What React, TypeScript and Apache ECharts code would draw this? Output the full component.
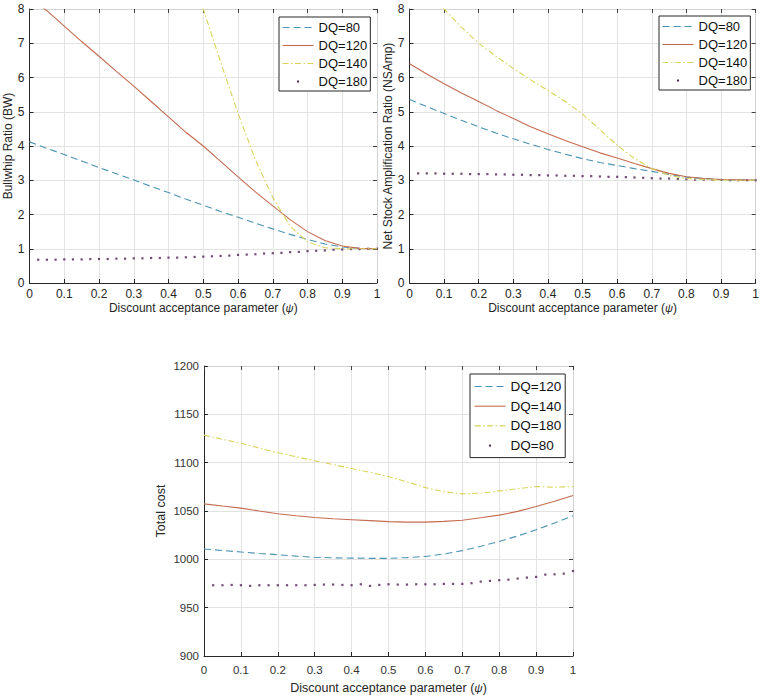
import React, { useEffect, useRef } from "react";
import * as echarts from "echarts";

// ---------- data ----------
const xLine = [0, 0.05, 0.1, 0.15, 0.2, 0.25, 0.3, 0.35, 0.4, 0.45, 0.5, 0.55, 0.6, 0.65, 0.7, 0.75, 0.8, 0.85, 0.9, 0.95, 1];
const xDots = [0.025, 0.05, 0.075, 0.1, 0.125, 0.15, 0.175, 0.2, 0.225, 0.25, 0.275, 0.3, 0.325, 0.35, 0.375, 0.4, 0.425, 0.45, 0.475, 0.5,
  0.525, 0.55, 0.575, 0.6, 0.625, 0.65, 0.675, 0.7, 0.725, 0.75, 0.775, 0.8, 0.825, 0.85, 0.875, 0.9, 0.925, 0.95, 0.975, 1];

// Bullwhip ratio (top-left)
const bwDQ80 = [4.12, 3.93, 3.75, 3.56, 3.37, 3.19, 3.01, 2.82, 2.64, 2.45, 2.27, 2.09, 1.92, 1.75, 1.58, 1.42, 1.27, 1.14, 1.05, 1.01, 1.0];
const bwDQ120 = [8.35, 7.95, 7.5, 7.05, 6.62, 6.18, 5.75, 5.3, 4.85, 4.4, 4.0, 3.55, 3.1, 2.66, 2.25, 1.85, 1.5, 1.24, 1.08, 1.01, 1.0];
const bwDQ140X = [0.45, 0.5, 0.55, 0.6, 0.65, 0.7, 0.75, 0.8, 0.85, 0.9, 0.95, 1];
const bwDQ140 = [9.8, 8.0, 6.45, 4.96, 3.6, 2.5, 1.66, 1.2, 1.03, 1.0, 1.0, 1.0];
const bwDQ180 = [0.68, 0.68, 0.68, 0.69, 0.69, 0.69, 0.7, 0.7, 0.7, 0.71, 0.71, 0.72, 0.72, 0.73, 0.73, 0.74, 0.74, 0.75, 0.76, 0.77,
  0.78, 0.79, 0.8, 0.82, 0.83, 0.84, 0.86, 0.87, 0.88, 0.9, 0.91, 0.93, 0.94, 0.95, 0.97, 0.98, 0.99, 0.99, 1.0, 1.0];

// Net stock amplification ratio (top-right)
const nsDQ80 = [5.36, 5.15, 4.95, 4.75, 4.56, 4.38, 4.21, 4.05, 3.9, 3.76, 3.63, 3.52, 3.43, 3.34, 3.26, 3.17, 3.09, 3.05, 3.02, 3.01, 3.0];
const nsDQ120 = [6.4, 6.1, 5.82, 5.55, 5.3, 5.04, 4.8, 4.56, 4.36, 4.16, 3.98, 3.8, 3.65, 3.49, 3.34, 3.2, 3.1, 3.05, 3.02, 3.01, 3.0];
const nsDQ140 = [9.1, 8.55, 8.0, 7.47, 7.0, 6.62, 6.26, 5.93, 5.62, 5.3, 4.93, 4.48, 4.02, 3.63, 3.34, 3.14, 3.05, 3.02, 3.0, 3.0, 3.0];
const nsDQ180 = [3.2, 3.2, 3.2, 3.19, 3.19, 3.19, 3.18, 3.18, 3.18, 3.17, 3.17, 3.16, 3.16, 3.15, 3.15, 3.14, 3.14, 3.13, 3.13, 3.12,
  3.12, 3.11, 3.1, 3.1, 3.09, 3.08, 3.07, 3.06, 3.05, 3.05, 3.04, 3.03, 3.02, 3.02, 3.01, 3.01, 3.0, 3.0, 3.0, 3.0];

// Total cost (bottom)
const tcDQ120 = [1010.7, 1009.1, 1007.6, 1006.1, 1004.8, 1003.3, 1002.1, 1001.6, 1001.3, 1001.0, 1001.0, 1001.8, 1003.0, 1005.5, 1009.0, 1013.5, 1018.5, 1024.2, 1030.6, 1037.5, 1045.0];
const tcDQ140 = [1057.4, 1055.1, 1053.0, 1050.0, 1047.2, 1045.1, 1043.3, 1042.0, 1041.0, 1040.0, 1039.0, 1038.5, 1038.5, 1039.3, 1040.5, 1043.0, 1045.7, 1049.6, 1054.6, 1060.0, 1066.0];
const tcDQ180 = [1128.5, 1124.2, 1120.0, 1115.1, 1110.3, 1106.1, 1102.0, 1098.0, 1094.0, 1090.0, 1085.6, 1080.2, 1074.2, 1070.0, 1067.7, 1068.4, 1070.8, 1073.0, 1075.3, 1074.6, 1075.3];
const tcDQ80 = [973.2, 973.2, 973.5, 973.2, 972.5, 973.2, 973.2, 973.2, 973.2, 973.2, 973.2, 973.5, 973.9, 973.9, 973.5, 973.2, 974.2, 972.5, 973.5, 974.2,
  973.9, 973.9, 974.2, 974.2, 974.2, 974.6, 974.6, 974.6, 975.3, 977.0, 977.7, 978.4, 979.0, 980.1, 981.1, 981.8, 984.2, 984.5, 985.2, 987.9];

const bwLegend = ["DQ=80", "DQ=120", "DQ=140", "DQ=180"];
const tcLegend = ["DQ=120", "DQ=140", "DQ=180", "DQ=80"];

// ---------- styles ----------
const FONT = '"Liberation Sans", Arial, Helvetica, sans-serif';
const BLUE = "#4a93b3";
const RED = "#c46c50";
const YELLOW = "#d8d45a";
const PURPLE = "#4e2250";
const DASH = [7, 4];
const DASHDOT = [6, 2.5, 1.5, 2.5];
const DOT_ICON = "path://M0,0M31,12M14.5,5h2v2h-2z";

const pairs = (xs: number[], ys: number[]) => xs.map((x, i) => [x, ys[i]]);
const plain = (v: number) => String(v);

function lineSeries(name: string, data: number[][], color: string, type: any) {
  return {
    type: "line",
    name,
    data,
    symbol: "none",
    showSymbol: false,
    clip: true,
    silent: true,
    lineStyle: { color, width: 1.1, type },
    itemStyle: { color },
  };
}
function dotSeries(name: string, data: number[][]) {
  return {
    type: "scatter",
    name,
    data,
    symbol: "rect",
    symbolSize: 2.2,
    silent: true,
    itemStyle: { color: PURPLE },
  };
}

function buildOption(p: any) {
  const tickColor = p.textColor;
  const mainX = {
    type: "value",
    min: 0,
    max: 1,
    interval: 0.1,
    position: "bottom",
    gridIndex: 0,
    axisLine: { show: true, onZero: false, lineStyle: { color: "#262626", width: 1 } },
    axisTick: { show: true, inside: true, length: 4, lineStyle: { color: "#262626" } },
    axisLabel: { margin: p.xLabelMargin, fontSize: p.tickSize, color: tickColor, fontFamily: FONT, formatter: plain },
    splitLine: { show: true, lineStyle: { color: "#e3e3e3", width: 1 } },
    name: "Discount acceptance parameter ({i|ψ})",
    nameLocation: "middle",
    nameGap: p.xNameGap,
    nameTextStyle: {
      fontSize: p.nameSize,
      color: "#262626",
      fontFamily: FONT,
      rich: { i: { fontStyle: "italic", fontSize: p.nameSize - 1, color: "#262626", fontFamily: FONT } },
    },
  };
  const topX = {
    type: "value",
    min: 0,
    max: 1,
    interval: 0.1,
    position: "top",
    gridIndex: 0,
    axisLine: { show: true, onZero: false, lineStyle: { color: "#d2d2d2", width: 1 } },
    axisTick: { show: true, inside: true, length: 4, lineStyle: { color: "#404040" } },
    axisLabel: { show: false },
    splitLine: { show: false },
  };
  const mainY = {
    type: "value",
    min: p.yMin,
    max: p.yMax,
    interval: p.yInterval,
    position: "left",
    gridIndex: 0,
    axisLine: { show: true, onZero: false, lineStyle: { color: "#262626", width: 1 } },
    axisTick: { show: true, inside: true, length: 4, lineStyle: { color: "#262626" } },
    axisLabel: { margin: 5, fontSize: p.tickSize, color: tickColor, fontFamily: FONT, formatter: plain },
    splitLine: { show: true, lineStyle: { color: "#e3e3e3", width: 1 } },
    name: p.yName,
    nameLocation: "middle",
    nameGap: p.yNameGap,
    nameRotate: 90,
    nameTextStyle: { fontSize: p.nameSize, color: "#262626", fontFamily: FONT },
  };
  const rightY = {
    type: "value",
    min: p.yMin,
    max: p.yMax,
    interval: p.yInterval,
    position: "right",
    gridIndex: 0,
    axisLine: { show: true, onZero: false, lineStyle: { color: "#d2d2d2", width: 1 } },
    axisTick: { show: true, inside: true, length: 4, lineStyle: { color: "#404040" } },
    axisLabel: { show: false },
    splitLine: { show: false },
  };
  return {
    animation: false,
    grid: { left: p.grid[0], top: p.grid[1], width: p.grid[2], height: p.grid[3], containLabel: false },
    xAxis: [mainX, topX],
    yAxis: [mainY, rightY],
    legend: {
      orient: "vertical",
      left: p.legend[0],
      top: p.legend[1],
      itemWidth: 31,
      itemHeight: 12,
      itemGap: p.legendGap,
      padding: p.legendPad,
      borderColor: "#262626",
      borderWidth: 1,
      borderRadius: 0,
      backgroundColor: "#ffffff",
      selectedMode: false,
      textStyle: { fontSize: p.legendFont, color: "#111111", fontFamily: FONT },
      itemStyle: { opacity: 0 },
      lineStyle: { width: 1.1 },
      data: p.legendData.map((n: string) =>
        n === p.dotName ? { name: n, icon: DOT_ICON, itemStyle: { opacity: 1, color: PURPLE } } : { name: n }
      ),
    },
    series: p.series,
  };
}

const opt1 = buildOption({
  grid: [29.5, 9, 347.5, 274],
  yMin: 0, yMax: 8, yInterval: 1,
  yName: "Bullwhip Ratio (BW)",
  yNameGap: 14,
  xNameGap: 19,
  xLabelMargin: 5,
  tickSize: 12,
  nameSize: 12,
  textColor: "#262626",
  legend: [279, 17],
  legendGap: 5,
  legendPad: [4, 3, 3, 3],
  legendFont: 13,
  legendData: bwLegend,
  dotName: "DQ=180",
  series: [
    lineSeries("DQ=80", pairs(xLine, bwDQ80), BLUE, DASH),
    lineSeries("DQ=120", pairs(xLine, bwDQ120), RED, "solid"),
    lineSeries("DQ=140", pairs(bwDQ140X, bwDQ140), YELLOW, DASHDOT),
    dotSeries("DQ=180", pairs(xDots, bwDQ180)),
  ],
});

const opt2 = buildOption({
  grid: [409.5, 9, 347.5, 274],
  yMin: 0, yMax: 8, yInterval: 1,
  yName: "Net Stock Amplification Ratio (NSAmp)",
  yNameGap: 15,
  xNameGap: 19,
  xLabelMargin: 5,
  tickSize: 12,
  nameSize: 12,
  textColor: "#262626",
  legend: [659, 16],
  legendGap: 5,
  legendPad: [4, 3, 3, 3],
  legendFont: 13,
  legendData: bwLegend,
  dotName: "DQ=180",
  series: [
    lineSeries("DQ=80", pairs(xLine, nsDQ80), BLUE, DASH),
    lineSeries("DQ=120", pairs(xLine, nsDQ120), RED, "solid"),
    lineSeries("DQ=140", pairs(xLine, nsDQ140), YELLOW, DASHDOT),
    dotSeries("DQ=180", pairs(xDots, nsDQ180)),
  ],
});

const opt3 = buildOption({
  grid: [204, 366, 369, 290],
  yMin: 900, yMax: 1200, yInterval: 50,
  yName: "Total cost",
  yNameGap: 37,
  xNameGap: 25,
  xLabelMargin: 8,
  tickSize: 11.5,
  nameSize: 12.5,
  textColor: "#333333",
  legend: [470, 374],
  legendGap: 5.7,
  legendPad: [5.5, 4, 5, 4],
  legendFont: 13.5,
  legendData: tcLegend,
  dotName: "DQ=80",
  series: [
    lineSeries("DQ=120", pairs(xLine, tcDQ120), BLUE, DASH),
    lineSeries("DQ=140", pairs(xLine, tcDQ140), RED, "solid"),
    lineSeries("DQ=180", pairs(xLine, tcDQ180), YELLOW, DASHDOT),
    dotSeries("DQ=80", pairs(xDots, tcDQ80)),
  ],
});

export default function App() {
  const r1 = useRef<HTMLDivElement>(null);
  const r2 = useRef<HTMLDivElement>(null);
  const r3 = useRef<HTMLDivElement>(null);

  useEffect(() => {
    document.body.style.margin = "0";
    const list: [React.RefObject<HTMLDivElement>, any][] = [
      [r1, opt1],
      [r2, opt2],
      [r3, opt3],
    ];
    const charts = list.map(([r, o]) => {
      const c = echarts.init(r.current as HTMLDivElement, null, { renderer: "svg", width: 762, height: 695 });
      c.setOption(o);
      return c;
    });
    return () => charts.forEach((c) => c.dispose());
  }, []);

  const layer: React.CSSProperties = { position: "absolute", left: 0, top: 0, width: 762, height: 695 };
  return (
    <div style={{ position: "relative", width: 762, height: 695, background: "#ffffff", overflow: "hidden" }}>
      <div ref={r1} style={layer} />
      <div ref={r2} style={layer} />
      <div ref={r3} style={layer} />
    </div>
  );
}
